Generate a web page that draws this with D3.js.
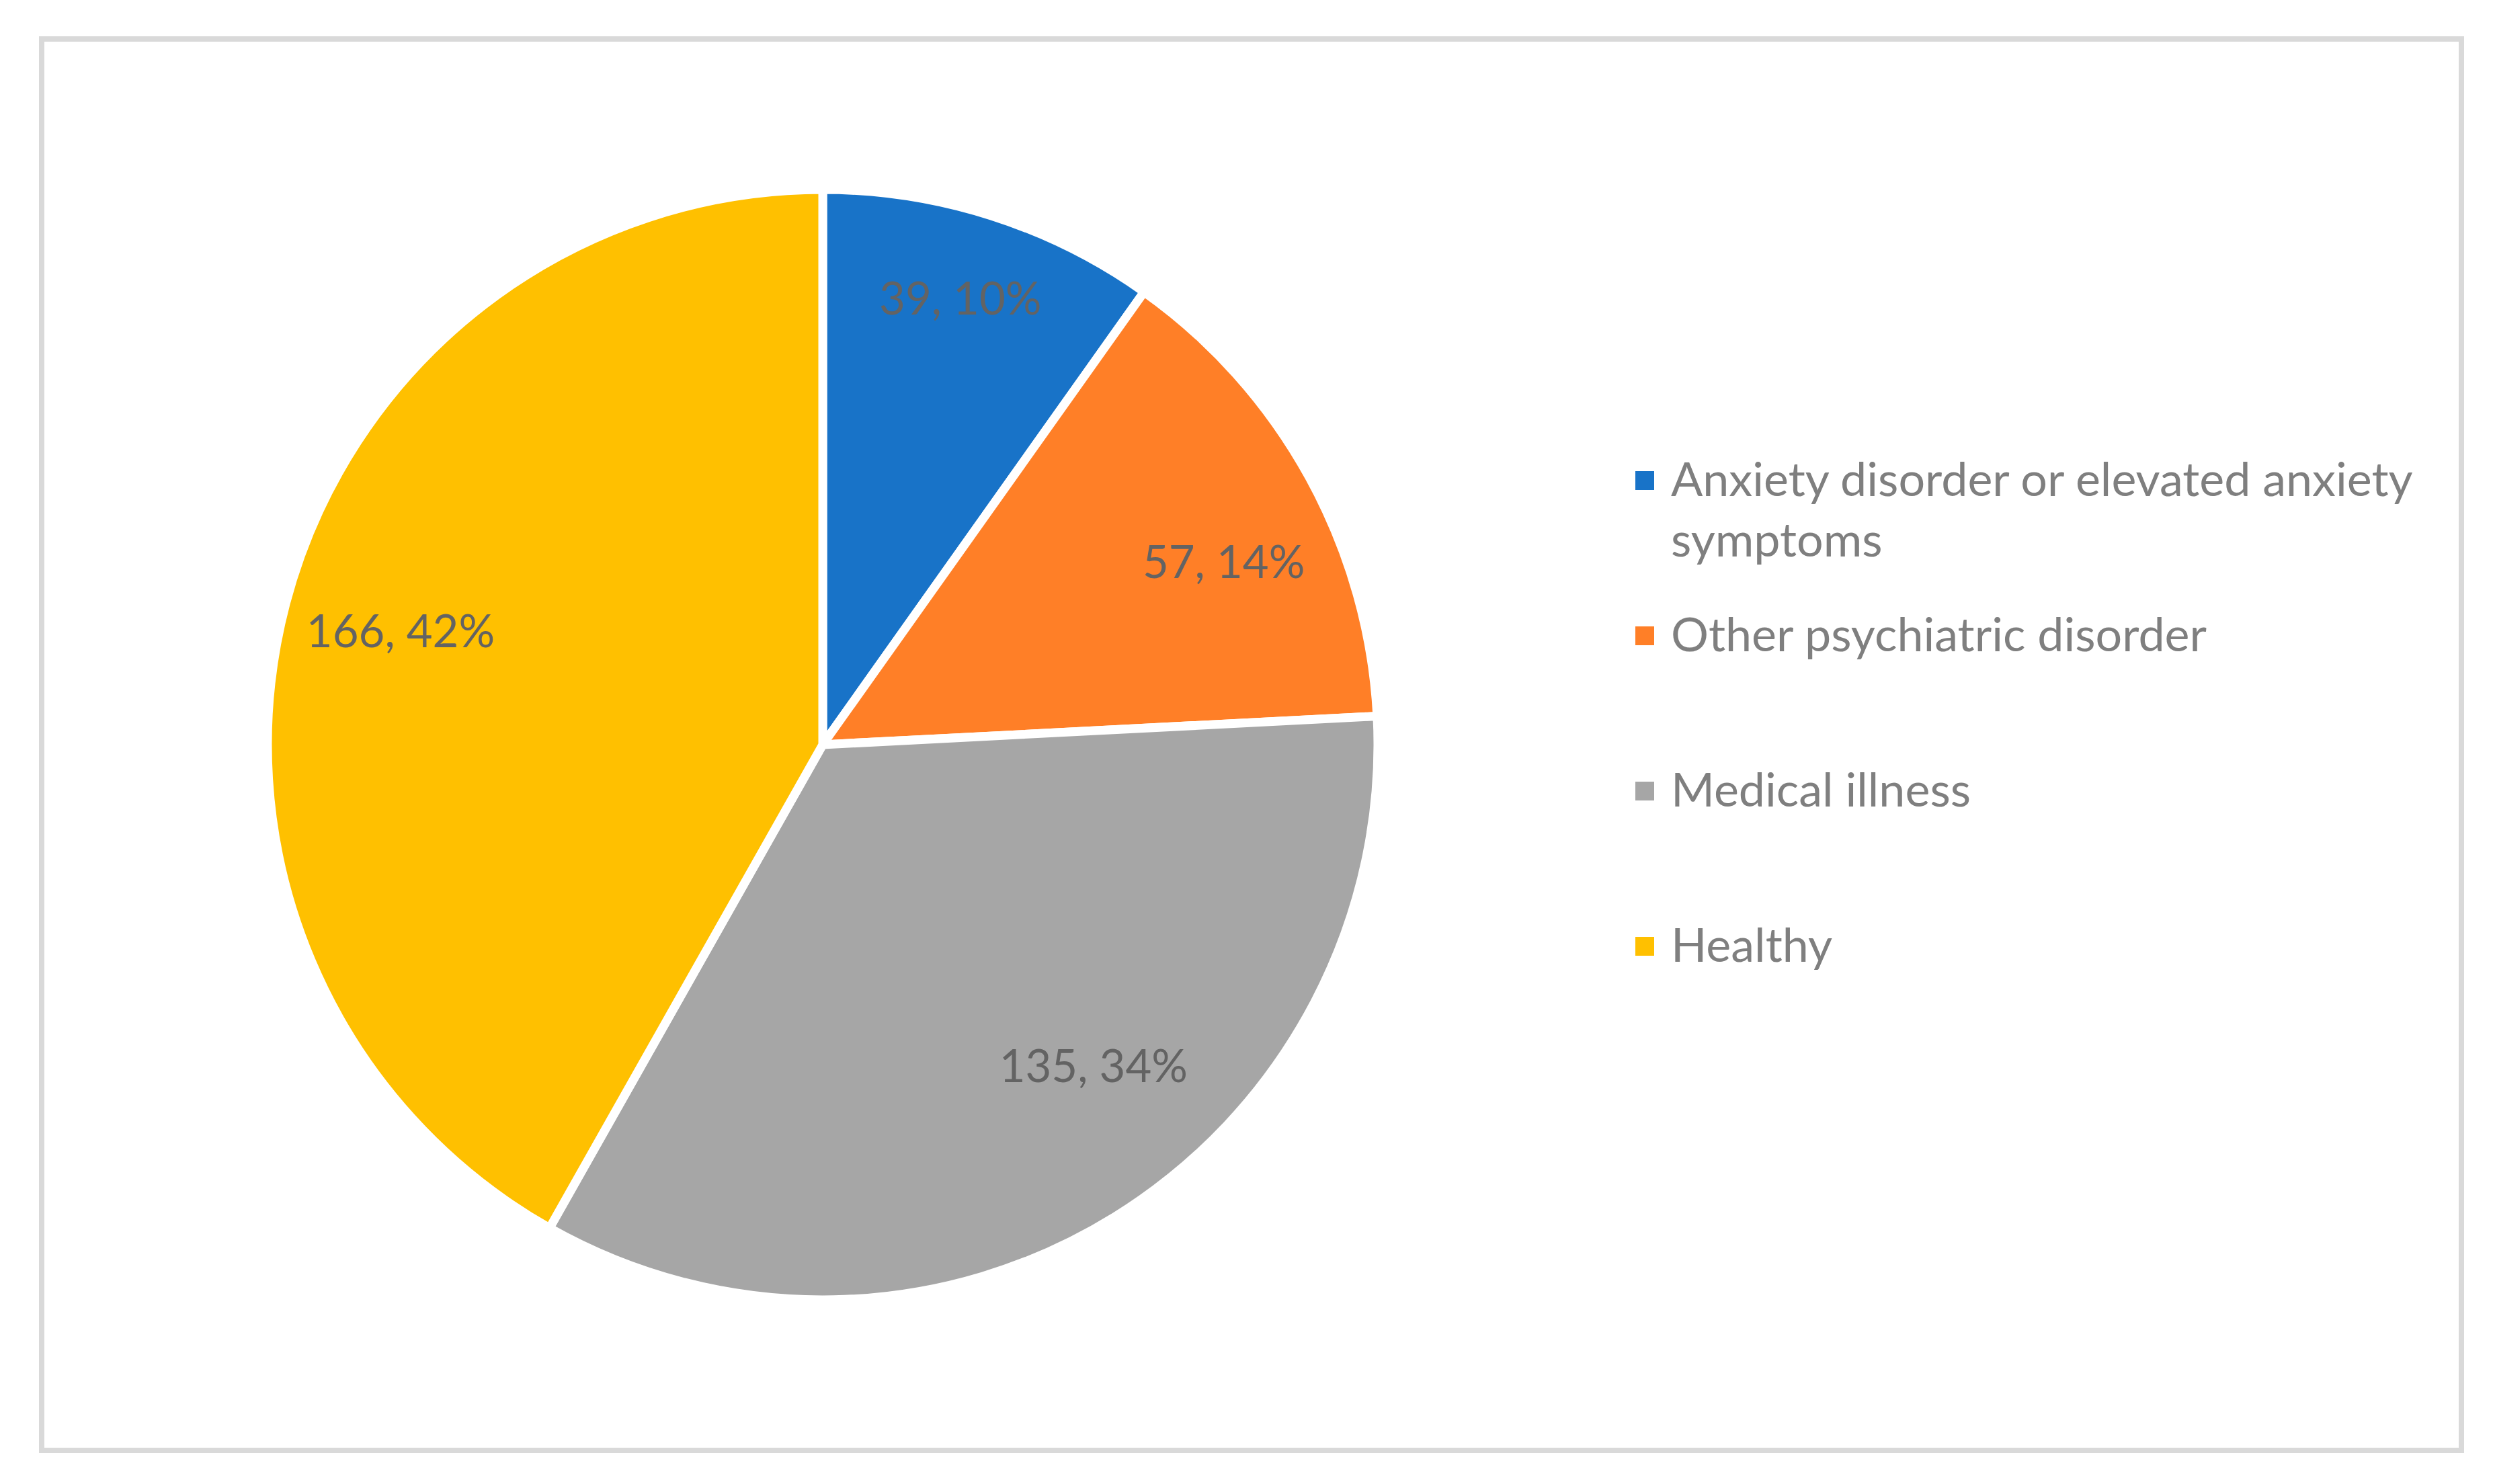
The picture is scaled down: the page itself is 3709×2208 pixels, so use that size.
<!DOCTYPE html>
<html>
<head>
<meta charset="utf-8">
<script src="https://cdn.jsdelivr.net/npm/d3@7"></script>
<style>
  html,body{margin:0;padding:0;background:#fff;}
  svg{display:block;}
</style>
</head>
<body>
<svg id="chart"></svg>
<script>
const width = 3709;
const height = 2208;

const categories = ['Anxiety disorder or elevated anxiety symptoms','Other psychiatric disorder','Medical illness','Healthy'];
const counts = [39, 57, 135, 166];
const percentLabels = ['10%','14%','34%','42%'];
const colors = ['#1873C8','#FF7F27','#A6A6A6','#FFC000'];
// legend text is wrapped the way the original chart wraps it
const legendLines = [['Anxiety disorder or elevated anxiety','symptoms'],['Other psychiatric disorder'],['Medical illness'],['Healthy']];

// "best fit" label placement: radius as share of pie radius, and a small turn off the slice middle (degrees)
const labelRadius = [0.844, 0.795, 0.755, 0.788];
const labelTurn = [-0.6, 4.1, -8.5, 0.5];

const font = 'Lato, "Noto Sans", sans-serif';

const svg = d3.select('#chart').attr('width',width).attr('height',height);

// chart frame
svg.append('rect')
  .attr('x',62).attr('y',58)
  .attr('width',3600).attr('height',2100)
  .attr('fill','#fff')
  .attr('stroke','#D9D9D9')
  .attr('stroke-width',8);

const cx = 1224, cy = 1108, radius = 826;

const pie = d3.pie().sort(null).value(d=>d);
const arcs = pie(counts);
const arc = d3.arc().innerRadius(0).outerRadius(radius);

const g = svg.append('g').attr('transform',`translate(${cx},${cy})`);

g.selectAll('path').data(arcs).enter().append('path')
  .attr('d',arc)
  .attr('fill',(d,i)=>colors[i])
  .attr('stroke','#fff')
  .attr('stroke-width',13)
  .attr('stroke-linejoin','miter');

function labelPos(d,i){
  const a = (d.startAngle + d.endAngle)/2 + labelTurn[i]*Math.PI/180;
  const r = radius*labelRadius[i];
  return [r*Math.sin(a), -r*Math.cos(a)];
}

g.selectAll('text.lbl').data(arcs).enter().append('text')
  .attr('class','lbl')
  .attr('x',(d,i)=>labelPos(d,i)[0])
  .attr('y',(d,i)=>labelPos(d,i)[1])
  .attr('text-anchor','middle')
  .attr('dominant-baseline','central')
  .attr('font-family',font)
  .attr('font-size',67)
  .attr('fill','#636363')
  .text((d,i)=>`${counts[i]}, ${percentLabels[i]}`);

// legend
const legendX = 2433, legendY = 738, entryPitch = 231, lineH = 90, box = 28;
const legend = svg.append('g');
const items = legend.selectAll('g').data(categories).enter().append('g')
  .attr('transform',(d,i)=>`translate(${legendX},${legendY + i*entryPitch})`);

items.append('rect')
  .attr('x',0).attr('y',-23-box/2)
  .attr('width',box).attr('height',box)
  .attr('fill',(d,i)=>colors[i]);

items.each(function(d,i){
  const t = d3.select(this).append('text')
    .attr('font-family',font)
    .attr('font-size',70)
    .attr('fill','#7F7F7F');
  legendLines[i].forEach((ln,j)=>{
    t.append('tspan').attr('x',53).attr('y',j*lineH).text(ln);
  });
});
</script>
</body>
</html>
